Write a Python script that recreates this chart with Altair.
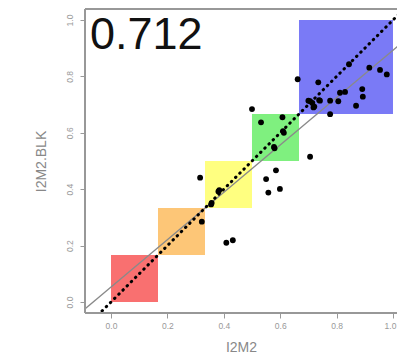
import altair as alt
import pandas as pd

# ---- data ----
pt_x = [0.316, 0.322, 0.357, 0.355, 0.381, 0.384, 0.409, 0.432,
        0.500, 0.532, 0.550, 0.558, 0.585, 0.578, 0.580, 0.599, 0.608, 0.613, 0.610,
        0.662, 0.706, 0.700, 0.706, 0.714, 0.718, 0.721, 0.735, 0.738, 0.741,
        0.777, 0.777, 0.806, 0.812, 0.830, 0.844, 0.869, 0.891, 0.893,
        0.916, 0.954, 0.978]
pt_y = [0.441, 0.285, 0.351, 0.346, 0.392, 0.397, 0.210, 0.219,
        0.684, 0.637, 0.436, 0.388, 0.467, 0.550, 0.545, 0.401, 0.655, 0.600, 0.606,
        0.790, 0.515, 0.714, 0.712, 0.706, 0.690, 0.693, 0.779, 0.716, 0.714,
        0.714, 0.666, 0.712, 0.742, 0.745, 0.843, 0.696, 0.755, 0.728,
        0.831, 0.823, 0.807]

box_lo = [0.0, 1 / 6, 2 / 6, 3 / 6, 4 / 6]
box_hi = [1 / 6, 2 / 6, 3 / 6, 4 / 6, 1.0]
box_col = ["#F97070", "#FDC677", "#FFFF80", "#7FF07F", "#7A7AF6"]

reg_x = [-0.15, 1.15]
reg_y = [-0.073, 1.019]

id_x = [-0.15, 1.15]
id_y = [-0.15, 1.15]

ticks = [0.0, 0.2, 0.4, 0.6, 0.8, 1.0]
score_text = "0.712"

# ---- tables ----
pts = pd.DataFrame({"x": pt_x, "y": pt_y})
boxes = pd.DataFrame({"lo": box_lo, "hi": box_hi, "col": box_col})
reg = pd.DataFrame({"x": reg_x, "y": reg_y})
ident = pd.DataFrame({"x": id_x, "y": id_y})

W, H = 312, 304
XD = [-0.0922, 1.0142]
YD = [-0.039, 1.039]
FONT = "Liberation Sans"
GRAY = "#999999"

xsc = alt.Scale(domain=XD, nice=False, zero=False)
ysc = alt.Scale(domain=YD, nice=False, zero=False)

xax = alt.Axis(values=ticks, format=".1f", title="I2M2", grid=False, domain=False,
               tickColor=GRAY, tickSize=5, tickWidth=1,
               labelColor=GRAY, labelFontSize=8.5, labelFont=FONT, labelPadding=3,
               labelOffset={"condition": {"test": "datum.value >= 1", "value": -3}, "value": 0},
               titleColor="#888888", titleFontSize=14, titleFont=FONT,
               titleFontWeight="normal", titlePadding=11)
yax = alt.Axis(values=ticks, format=".1f", title="I2M2.BLK", grid=False, domain=False,
               tickColor=GRAY, tickSize=5, tickWidth=1,
               labelColor=GRAY, labelFontSize=8.5, labelFont=FONT, labelPadding=6,
               labelAngle=270, labelAlign="center", labelBaseline="bottom",
               titleColor="#888888", titleFontSize=14, titleFont=FONT,
               titleFontWeight="normal", titlePadding=17)

rects = alt.Chart(boxes).mark_rect(stroke=None).encode(
    x=alt.X("lo:Q", scale=xsc, axis=xax),
    x2="hi:Q",
    y=alt.Y("lo:Q", scale=ysc, axis=yax),
    y2="hi:Q",
    color=alt.Color("col:N", scale=None),
)

reg_line = alt.Chart(reg).mark_line(color="#8a8a8a", strokeWidth=1.3, clip=True).encode(
    x=alt.X("x:Q", scale=xsc), y=alt.Y("y:Q", scale=ysc)
)

id_line = alt.Chart(ident).mark_line(color="#000000", strokeWidth=3, strokeDash=[0.5, 5.4],
                                     strokeCap="round", clip=True).encode(
    x=alt.X("x:Q", scale=xsc), y=alt.Y("y:Q", scale=ysc)
)

dots = alt.Chart(pts).mark_circle(color="#000000", opacity=1, size=34).encode(
    x=alt.X("x:Q", scale=xsc), y=alt.Y("y:Q", scale=ysc)
)

frame_top = alt.Chart(pts).mark_rule(color=GRAY, strokeWidth=1.5).encode(
    x=alt.value(0), x2=alt.value(W), y=alt.value(0))
frame_bot = alt.Chart(pts).mark_rule(color=GRAY, strokeWidth=1.5).encode(
    x=alt.value(0), x2=alt.value(W), y=alt.value(H))
frame_left = alt.Chart(pts).mark_rule(color=GRAY, strokeWidth=1.5).encode(
    x=alt.value(0), y=alt.value(0), y2=alt.value(H))

label = alt.Chart(pd.DataFrame({"t": [score_text]})).mark_text(
    font=FONT, fontSize=45, color="#111111", align="left", baseline="alphabetic"
).encode(x=alt.value(5), y=alt.value(40), text="t:N")

chart = alt.layer(rects, reg_line, id_line, dots, frame_top, frame_bot, frame_left, label).properties(
    width=W, height=H,
    padding={"left": 77, "top": 1, "right": 0, "bottom": 46},
    autosize=alt.AutoSizeParams(type="none"),
    background="white",
).configure_view(stroke=None)

chart.save("out.html", embed_options={"renderer": "svg", "actions": False})
